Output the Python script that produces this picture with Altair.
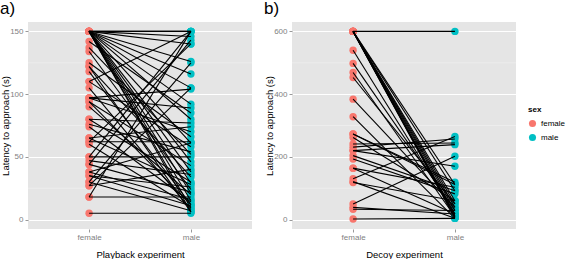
import altair as alt
import pandas as pd

# Panel a) Playback experiment: paired latencies (female, male)
a_female = [150, 150, 150, 150, 150, 150, 150, 150, 150, 150, 150, 150, 150, 150, 150, 150, 150,
            142, 137, 134, 125, 122, 118, 110, 105, 97, 97, 94, 90, 80, 80, 76, 74, 65, 62, 60,
            50, 50, 47, 44, 38, 38, 35, 30, 30, 27, 18, 18, 5, 62, 94, 122, 44, 35, 27, 110, 65, 97]
a_male = [150, 150, 146, 140, 126, 116, 105, 92, 80, 61, 46, 38, 29, 21, 15, 9, 6,
          85, 52, 24, 66, 34, 12, 58, 8, 89, 70, 43, 20, 77, 30, 54, 14, 74, 62, 10,
          50, 150, 36, 143, 61, 16, 26, 125, 7, 105, 150, 18, 5, 140, 12, 6, 22, 11, 40, 150, 28, 104]

# Panel b) Decoy experiment
b_female = [600, 600, 600, 600, 600, 600, 600, 600, 600, 600, 600,
            540, 498, 469, 453, 384, 328, 273, 262, 241, 231, 220, 204, 193, 164, 164,
            130, 121, 118, 50, 39, 33, 2, 220, 273]
b_male = [600, 4, 8, 12, 18, 29, 39, 50, 60, 92, 112,
          18, 29, 10, 50, 39, 4, 112, 60, 244, 257, 170, 92, 82, 103, 18,
          265, 4, 60, 202, 18, 29, 4, 239, 119]

sexes = ["female", "male"]
a_ticks = [0, 50, 100, 150]
a_minor = [25, 75, 125]
b_ticks = [0, 200, 400, 600]
b_minor = [100, 300, 500]

FONT = "Liberation Sans"


def long_df(f, m):
    rows = []
    for i, (fv, mv) in enumerate(zip(f, m)):
        rows.append({"id": i, "sex": "female", "value": fv})
        rows.append({"id": i, "sex": "male", "value": mv})
    return pd.DataFrame(rows)


def panel(f, m, ticks, minor, letter, xtitle):
    df = long_df(f, m)
    lo, hi = min(ticks), max(ticks)
    pad = (hi - lo) * 0.05
    x = alt.X("sex:N", scale=alt.Scale(type="point", padding=0.6, domain=sexes),
              axis=alt.Axis(title=xtitle, labelAngle=0))
    y = alt.Y("value:Q", scale=alt.Scale(domain=[lo - pad, hi + pad], nice=False, zero=False),
              axis=alt.Axis(values=ticks, title="Latency to approach (s)", format="d"))
    base = alt.Chart(df)
    minor_rules = alt.Chart(pd.DataFrame({"v": minor})).mark_rule(
        color="#F2F2F2", strokeWidth=0.6).encode(y="v:Q")
    pts = base.mark_circle(size=55, opacity=1).encode(
        x=x, y=y,
        color=alt.Color("sex:N", scale=alt.Scale(domain=sexes, range=["#F8766D", "#00BFC4"]),
                        legend=alt.Legend(title="sex")))
    lines = base.mark_line(color="black", strokeWidth=1.1).encode(x=x, y=y, detail="id:N")
    return alt.layer(minor_rules, pts, lines).properties(
        width=224, height=207,
        title=alt.TitleParams(letter, anchor="start", frame="bounds", fontSize=17,
                              fontWeight="normal", font=FONT, offset=4, color="black"))


pa = panel(a_female, a_male, a_ticks, a_minor, "a)", "Playback experiment")
pb = panel(b_female, b_male, b_ticks, b_minor, "b)", "Decoy experiment")

chart = alt.hconcat(pa, pb, spacing=11).properties(
    padding={"left": 0, "top": 0, "right": 0, "bottom": 0}
).configure_view(
    fill="#E5E5E5", stroke=None
).configure_axis(
    labelFont=FONT, titleFont=FONT, labelFontSize=8, labelColor="#7F7F7F",
    tickColor="#7F7F7F", tickSize=3, tickWidth=0.8, domain=False,
    gridColor="white", gridWidth=1.1, titleFontSize=9.5, titleFontWeight="normal",
    titleColor="black"
).configure_axisY(
    labelPadding=2, minExtent=18, maxExtent=18, titlePadding=0
).configure_axisX(
    labelPadding=1, titlePadding=8
).configure_legend(
    orient="none", legendX=500, legendY=84, padding=0, titleFont=FONT, labelFont=FONT,
    titleFontSize=8, labelFontSize=8, symbolSize=50, symbolType="circle",
    rowPadding=5, titleFontWeight="bold", labelColor="black", symbolOpacity=1
)

chart.save("out.html", embed_options={"renderer": "svg", "actions": False})
